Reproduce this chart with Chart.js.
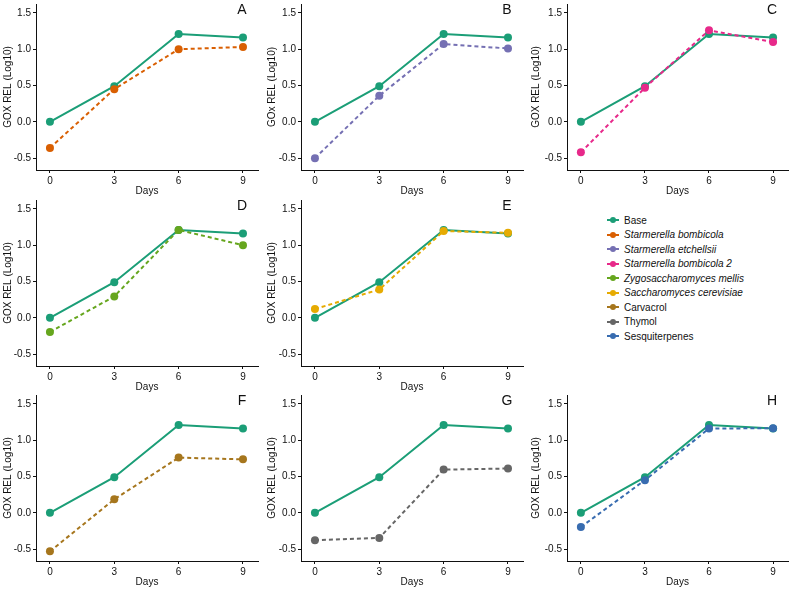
<!DOCTYPE html>
<html>
<head>
<meta charset="utf-8">
<script src="https://cdn.jsdelivr.net/npm/chart.js@4.4.0/dist/chart.umd.min.js"></script>
<style>
  html, body { margin: 0; padding: 0; background: #fff; }
  body { width: 792px; height: 589px; position: relative; overflow: hidden; font-family: "Liberation Sans", Arial, sans-serif; }
  .cell { position: absolute; }
  .legend { position: absolute; left: 606px; top: 213px; font-size: 10px; color: #111; }
  .legend .row { height: 14.5px; display: flex; align-items: center; white-space: nowrap; }
  .legend .sw { position: relative; width: 14px; height: 8px; margin-right: 4px; }
  .legend .sw .ln { position: absolute; left: 1px; right: 1px; top: 3px; height: 2px; }
  .legend .sw .dt { position: absolute; left: 4px; top: 1px; width: 6px; height: 6px; border-radius: 50%; }
  .legend i { font-style: italic; }
</style>
</head>
<body>
<div id="legend" class="legend"></div>
<script>
// ---- data ----
const days = [0, 3, 6, 9];
const dayTicks = [0, 3, 6, 9];
const yTicks = [-0.5, 0.0, 0.5, 1.0, 1.5];

const base                    = [0.00, 0.49, 1.21, 1.16];
const starmerellaBombicola    = [-0.36, 0.45, 1.00, 1.03];
const starmerellaEtchellsii   = [-0.50, 0.36, 1.07, 1.01];
const starmerellaBombicola2   = [-0.42, 0.47, 1.26, 1.10];
const zygosaccharomycesMellis = [-0.195, 0.295, 1.21, 1.00];
const saccharomycesCerevisiae = [0.12, 0.39, 1.195, 1.17];
const carvacrol               = [-0.53, 0.186, 0.76, 0.736];
const thymol                  = [-0.377, -0.345, 0.595, 0.61];
const sesquiterpenes          = [-0.195, 0.45, 1.16, 1.165];

const seriesNames = ["Base", "Starmerella bombicola", "Starmerella etchellsii", "Starmerella bombicola 2",
  "Zygosaccharomyces mellis", "Saccharomyces cerevisiae", "Carvacrol", "Thymol", "Sesquiterpenes"];
const seriesItalic = [false, true, true, true, true, true, false, false, false];
const seriesColors = ["#1B9E77", "#D95F02", "#7570B3", "#E7298A", "#66A61E", "#E6AB02", "#A6761D", "#666666", "#386CB0"];

const panelLetters = ["A", "B", "C", "D", "E", "F", "G", "H"];
const panelSeries = [starmerellaBombicola, starmerellaEtchellsii, starmerellaBombicola2, zygosaccharomycesMellis,
  saccharomycesCerevisiae, carvacrol, thymol, sesquiterpenes];
const panelYTitles = ["GOX REL (Log10)", "GOx REL (Log10)", "GOX REL (Log10)", "GOX REL (Log10)",
  "GOX REL (Log10)", "GOX REL (Log10)", "GOX REL (Log10)", "GOX REL (Log10)"];
const xTitle = "Days";

// ---- layout ----
const colLeft = [0, 264, 528];
const colYAxisW = [36, 37, 39];
const colPadRight = [6, 5, 4];
const rowTop = [0, 196, 391];
const cellW = 264, cellH = 198;
const panelCells = [[0,0],[0,1],[0,2],[1,0],[1,1],[2,0],[2,1],[2,2]];

const FONT = "'Liberation Sans', Arial, sans-serif";
const AXIS_COLOR = "#111";

const letterPlugin = {
  id: 'panelLetter',
  afterDraw(chart, args, opts) {
    const {ctx, chartArea} = chart;
    ctx.save();
    ctx.fillStyle = '#111';
    ctx.font = "14px " + FONT;
    ctx.textAlign = 'center';
    ctx.textBaseline = 'middle';
    ctx.fillText(opts.letter, chartArea.right - 16, chartArea.top + 6);
    ctx.restore();
  }
};

panelSeries.forEach((vals, i) => {
  const [r, c] = panelCells[i];
  const div = document.createElement('div');
  div.className = 'cell';
  div.style.left = colLeft[c] + 'px';
  div.style.top = rowTop[r] + 'px';
  div.style.width = cellW + 'px';
  div.style.height = cellH + 'px';
  const cv = document.createElement('canvas');
  cv.width = cellW; cv.height = cellH;
  cv.style.width = cellW + 'px'; cv.style.height = cellH + 'px';
  div.appendChild(cv);
  document.body.appendChild(div);

  const color = seriesColors[i + 1];
  new Chart(cv, {
    type: 'line',
    data: {
      datasets: [
        {
          label: seriesNames[i + 1],
          data: days.map((d, k) => ({x: d, y: vals[k]})),
          borderColor: color,
          backgroundColor: color,
          borderWidth: 2,
          borderDash: [4, 3],
          pointRadius: 4,
          pointBorderWidth: 0,
          pointBackgroundColor: color,
          tension: 0,
          order: 0
        },
        {
          label: seriesNames[0],
          data: days.map((d, k) => ({x: d, y: base[k]})),
          borderColor: seriesColors[0],
          backgroundColor: seriesColors[0],
          borderWidth: 2,
          pointRadius: 4,
          pointBorderWidth: 0,
          pointBackgroundColor: seriesColors[0],
          tension: 0,
          order: 1
        }
      ]
    },
    options: {
      responsive: false,
      animation: false,
      devicePixelRatio: 1,
      layout: { padding: { left: 0, top: 2, right: colPadRight[c], bottom: 0 } },
      plugins: {
        legend: { display: false },
        tooltip: { enabled: false },
        panelLetter: { letter: panelLetters[i] }
      },
      scales: {
        x: {
          type: 'linear',
          min: -0.65, max: 9.7,
          afterBuildTicks: (s) => { s.ticks = dayTicks.map(v => ({value: v})); },
          afterFit: (s) => { s.height = 28; s.paddingLeft = 0; s.paddingRight = 0; },
          grid: { display: true, drawOnChartArea: false, drawTicks: true, tickLength: 3, color: AXIS_COLOR, lineWidth: 1 },
          border: { display: true, color: AXIS_COLOR, width: 1 },
          ticks: { color: '#111', font: { family: FONT, size: 10 }, padding: 2, maxRotation: 0, autoSkip: false },
          title: { display: true, text: xTitle, color: '#111', font: { family: FONT, size: 10, lineHeight: 1.2 }, padding: { top: 0, bottom: 1 } }
        },
        y: {
          type: 'linear',
          min: -0.663, max: 1.622,
          afterBuildTicks: (s) => { s.ticks = yTicks.map(v => ({value: v})); },
          afterFit: (s) => { s.width = colYAxisW[c]; s.paddingTop = 0; s.paddingBottom = 0; },
          grid: { display: true, drawOnChartArea: false, drawTicks: true, tickLength: 3, color: AXIS_COLOR, lineWidth: 1 },
          border: { display: true, color: AXIS_COLOR, width: 1 },
          ticks: { color: '#111', font: { family: FONT, size: 10 }, padding: 2, callback: (v) => v.toFixed(1) },
          title: { display: true, text: panelYTitles[i], color: '#111', font: { family: FONT, size: 10, lineHeight: 1.2 }, padding: { top: 2, bottom: 0 } }
        }
      }
    },
    plugins: [letterPlugin]
  });
});

// ---- legend ----
const legend = document.getElementById('legend');
seriesNames.forEach((name, k) => {
  const row = document.createElement('div');
  row.className = 'row';
  const sw = document.createElement('div');
  sw.className = 'sw';
  const ln = document.createElement('div'); ln.className = 'ln'; ln.style.background = seriesColors[k];
  const dt = document.createElement('div'); dt.className = 'dt'; dt.style.background = seriesColors[k];
  sw.appendChild(ln); sw.appendChild(dt);
  const tx = document.createElement(seriesItalic[k] ? 'i' : 'span');
  tx.textContent = name;
  row.appendChild(sw); row.appendChild(tx);
  legend.appendChild(row);
});
</script>
</body>
</html>
